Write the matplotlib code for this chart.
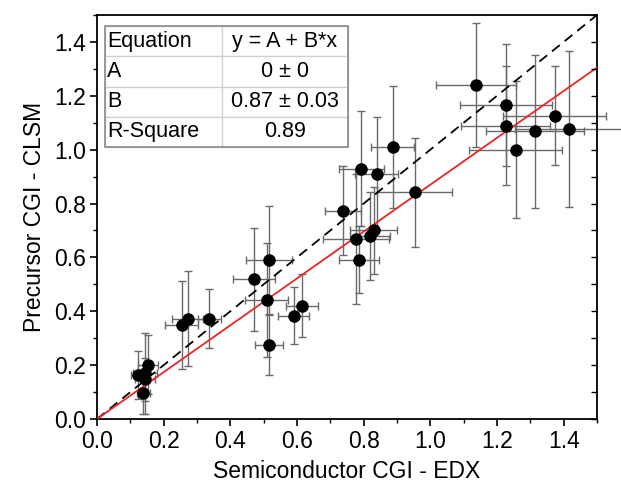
import matplotlib
matplotlib.use("Agg")
import matplotlib.pyplot as plt
import matplotlib.patches as mpatches
import numpy as np

plt.rcParams['font.family'] = ['Liberation Sans', 'DejaVu Sans']

# Data
x_vals = [0.122, 0.144, 0.152, 0.144, 0.139, 0.254, 0.272, 0.337, 0.471, 0.516,
          0.509, 0.516, 0.590, 0.616, 0.738, 0.793, 0.839, 0.887, 0.953, 0.777,
          0.818, 0.830, 0.785, 1.136, 1.227, 1.226, 1.256, 1.315, 1.373, 1.415]
y_vals = [0.164, 0.170, 0.201, 0.147, 0.095, 0.348, 0.373, 0.373, 0.518, 0.589,
          0.442, 0.275, 0.384, 0.421, 0.774, 0.929, 0.911, 1.009, 0.841, 0.668,
          0.680, 0.700, 0.592, 1.239, 1.167, 1.089, 1.000, 1.068, 1.126, 1.078]
x_err = [0.020, 0.037, 0.030, 0.030, 0.020, 0.050, 0.047, 0.035, 0.064, 0.069,
         0.065, 0.043, 0.046, 0.048, 0.055, 0.067, 0.065, 0.065, 0.112, 0.100,
         0.060, 0.070, 0.060, 0.120, 0.137, 0.134, 0.140, 0.147, 0.155, 0.160]
y_err = [0.089, 0.150, 0.110, 0.080, 0.075, 0.164, 0.178, 0.110, 0.190, 0.200,
         0.210, 0.110, 0.105, 0.116, 0.165, 0.213, 0.210, 0.226, 0.204, 0.240,
         0.163, 0.160, 0.123, 0.230, 0.227, 0.220, 0.254, 0.285, 0.183, 0.290]

fit_slope = 0.87
line_x = [0.0, 1.5]

table_rows = [["Equation", "y = A + B*x"],
              ["A", "0 \u00b1 0"],
              ["B", "0.87 \u00b1 0.03"],
              ["R-Square", "0.89"]]

fig = plt.figure(figsize=(6.21, 4.90), dpi=100)
ax = fig.add_axes([97/621, 71/490, 500/621, 404/490])

ax.errorbar(x_vals, y_vals, xerr=x_err, yerr=y_err, fmt='none',
            ecolor='#6a6a6a', elinewidth=1.0, capsize=3, capthick=1.0,
            zorder=2, clip_on=False)
ax.plot(line_x, line_x, color='black', linestyle=(0, (5.5, 3.5)), linewidth=1.3, zorder=3)
ax.plot(line_x, [fit_slope * v for v in line_x], color='#e8262a', linewidth=1.3, zorder=3)
ax.plot(x_vals, y_vals, 'o', color='black', markersize=8, zorder=4, clip_on=False)

ax.set_xlim(0, 1.5)
ax.set_ylim(0, 1.5)
ax.set_xticks(np.arange(0, 1.41, 0.2))
ax.set_yticks(np.arange(0, 1.41, 0.2))
ax.set_xticks(np.arange(0, 1.51, 0.1), minor=True)
ax.set_yticks(np.arange(0, 1.51, 0.1), minor=True)
ax.xaxis.set_major_formatter(matplotlib.ticker.FormatStrFormatter('%.1f'))
ax.yaxis.set_major_formatter(matplotlib.ticker.FormatStrFormatter('%.1f'))
ax.tick_params(which='major', direction='out', length=5, width=1.2, labelsize=16.5, pad=3)
ax.tick_params(which='minor', direction='out', length=3, width=1.0)
for s in ax.spines.values():
    s.set_linewidth(1.3)

ax2 = ax.twinx()
ax2.set_ylim(0, 1.5)
ax2.set_yticks(np.arange(0, 1.41, 0.2))
ax2.set_yticks(np.arange(0, 1.51, 0.1), minor=True)
ax2.tick_params(which='both', direction='in', length=4, width=1.0, labelright=False)
for s in ax2.spines.values():
    s.set_visible(False)

ax.set_xlabel("Semiconductor CGI - EDX", fontsize=16.5, labelpad=5)
ax.set_ylabel("Precursor CGI - CLSM", fontsize=16.5, labelpad=6)

tbl = ax.table(cellText=table_rows, colWidths=[0.234, 0.252], cellLoc='center',
               bbox=[0.016, 0.673, 0.486, 0.300], zorder=5)
tbl.auto_set_font_size(False)
for (r, c), cell in tbl.get_celld().items():
    cell.set_edgecolor('#cfcfcf')
    cell.set_linewidth(0.9)
    cell.set_facecolor('white')
    cell.get_text().set_fontsize(15.5)
    if c == 0:
        cell.get_text().set_ha('left')
        cell.PAD = 0.02
ax.add_patch(mpatches.Rectangle((0.016, 0.673), 0.486, 0.300, transform=ax.transAxes,
                                fill=False, edgecolor='#8a8a8a', linewidth=1.2, zorder=6))

fig.savefig("out.png", dpi=100)
